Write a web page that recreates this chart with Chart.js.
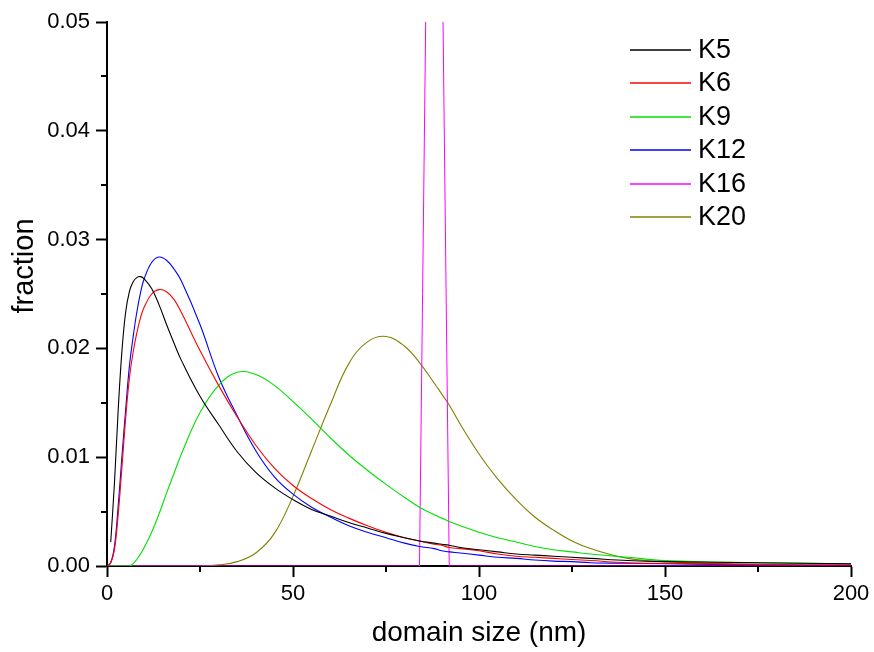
<!DOCTYPE html>
<html>
<head>
<meta charset="utf-8">
<script src="https://cdn.jsdelivr.net/npm/chart.js@4.4.0/dist/chart.umd.min.js"></script>
<style>
  html, body { margin: 0; padding: 0; background: #fff; }
  #wrap { width: 874px; height: 652px; }
</style>
</head>
<body>
<div id="wrap"><canvas id="sizeChart" width="874" height="652"></canvas></div>
<script>
// domain size (nm) sample positions
var sizes = [0, 1, 2, 3, 4, 5, 6, 7, 8, 9, 10, 12, 14, 16, 18, 20, 25, 30, 35, 40, 45, 50, 55, 60, 65, 70, 75, 80, 84, 88, 90, 92, 95, 100, 105, 110, 115, 120, 125, 130, 140, 150, 175, 200];

// fraction values (null = not read there)
var k5 = [null, 0.0022, 0.0076, 0.0143, 0.0197, 0.0233, 0.0252, 0.0261, 0.0265, 0.0266, 0.0264, 0.0255, 0.0240, 0.0222, 0.0205, 0.0189, 0.0156, 0.0130, 0.0105, 0.0086, 0.0072, 0.0061, 0.0052, 0.0046, 0.0040, 0.0035, 0.0030, 0.0026, 0.0023, 0.0021, 0.0020, 0.0019, 0.0017, 0.0015, 0.0013, 0.0011, 0.0010, 0.0009, 0.0008, 0.0007, 0.0005, 0.0004, 0.0003, 0.0002];
var k6 = [0, 0.0003, 0.0015, 0.0047, 0.0090, 0.0135, 0.0172, 0.0196, 0.0214, 0.0228, 0.0238, 0.0250, 0.0254, 0.0252, 0.0245, 0.0233, 0.0198, 0.0166, 0.0137, 0.0111, 0.0090, 0.0074, 0.0062, 0.0052, 0.0044, 0.0037, 0.0031, 0.0026, 0.0023, 0.0020, 0.0019, 0.0017, 0.0016, 0.0014, 0.0011, 0.0009, 0.0008, 0.0007, 0.0006, 0.0005, 0.0003, 0.00025, 0.00015, 0.0001];
var k9 = [0, 0, 0, 0, 0, 0, 0, 0.0002, 0.0006, 0.0011, 0.0017, 0.0031, 0.0048, 0.0067, 0.0085, 0.0103, 0.0141, 0.0166, 0.0178, 0.0176, 0.0166, 0.0151, 0.0135, 0.0118, 0.0102, 0.0088, 0.0075, 0.0063, 0.0054, 0.0047, 0.0044, 0.0041, 0.0037, 0.0031, 0.0026, 0.0022, 0.0018, 0.0015, 0.0013, 0.0011, 0.0008, 0.0005, 0.0003, 0.0002];
var k12 = [0, 0.0003, 0.0018, 0.0055, 0.0100, 0.0143, 0.0183, 0.0210, 0.0233, 0.0251, 0.0264, 0.0279, 0.0284, 0.0281, 0.0273, 0.0262, 0.0222, 0.0174, 0.0138, 0.0106, 0.0082, 0.0066, 0.0054, 0.0045, 0.0037, 0.0031, 0.0026, 0.0021, 0.0018, 0.0016, 0.0014, 0.0013, 0.0012, 0.0010, 0.0008, 0.0007, 0.00055, 0.00045, 0.0004, 0.0003, 0.00025, 0.0002, 0.0001, 0.00005];
var k16 = [0, 0, 0, 0, 0, 0, 0, 0, 0, 0, 0, 0, 0, 0, 0, 0, 0, 0, 0, 0, 0, 0, 0, 0, 0, 0, 0, 0, 0, 0.12, null, 0, 0, 0, 0, 0, 0, 0, 0, 0, 0, 0, 0, 0];
var k20 = [0, 0, 0, 0, 0, 0, 0, 0, 0, 0, 0, 0, 0, 0, 0, 0, 0, 0.0001, 0.0004, 0.0012, 0.0030, 0.0064, 0.0106, 0.0148, 0.0186, 0.0206, 0.0211, 0.0202, 0.0187, 0.0168, 0.0158, 0.0148, 0.0130, 0.0103, 0.0080, 0.0061, 0.0045, 0.0033, 0.0023, 0.0016, 0.0007, 0.0004, 0.0001, 0];

var seriesNames = ['K5', 'K6', 'K9', 'K12', 'K16', 'K20'];
var seriesValues = [k5, k6, k9, k12, k16, k20];
var seriesColors = ['#000000', '#ff0000', '#00e000', '#0000ff', '#ff00ff', '#808000'];

var xMinorTicks = [25, 75, 125, 175];
var yMinorTicks = [0.005, 0.015, 0.025, 0.035, 0.045];

var fontFamily = '"Liberation Sans", Arial, sans-serif';

function toPoints(vals) {
    var pts = [];
    for (var i = 0; i < sizes.length; i++) {
        if (vals[i] !== null) pts.push({x: sizes[i], y: vals[i]});
    }
    return pts;
}

var datasets = seriesNames.map(function (name, i) {
    return {
        label: name,
        data: toPoints(seriesValues[i]),
        borderColor: seriesColors[i],
        backgroundColor: seriesColors[i],
        borderWidth: name === 'K16' ? 1 : 1.1,
        pointRadius: 0,
        fill: false,
        tension: name === 'K16' ? 0 : 0.4
    };
});

// minor ticks, rotated y title and the legend
var extras = {
    id: 'extras',
    afterDraw: function (chart) {
        var ctx = chart.ctx;
        var area = chart.chartArea;
        var xs = chart.scales.x, ys = chart.scales.y;
        ctx.save();
        ctx.strokeStyle = '#000';
        ctx.lineWidth = 2;
        xMinorTicks.forEach(function (v) {
            var px = Math.round(xs.getPixelForValue(v));
            ctx.beginPath();
            ctx.moveTo(px, area.bottom);
            ctx.lineTo(px, area.bottom + 6);
            ctx.stroke();
        });
        yMinorTicks.forEach(function (v) {
            var py = Math.round(ys.getPixelForValue(v));
            ctx.beginPath();
            ctx.moveTo(area.left, py);
            ctx.lineTo(area.left - 6, py);
            ctx.stroke();
        });

        ctx.fillStyle = '#000';
        ctx.font = '29px ' + fontFamily;
        ctx.save();
        ctx.translate(33, 266);
        ctx.rotate(-Math.PI / 2);
        ctx.textAlign = 'center';
        ctx.textBaseline = 'alphabetic';
        ctx.fillText('fraction', 0, 0);
        ctx.restore();

        ctx.font = '27px ' + fontFamily;
        ctx.textAlign = 'left';
        ctx.textBaseline = 'middle';
        chart.data.datasets.forEach(function (ds, i) {
            var y = Math.round(49 + 33.4 * i) + 1;
            ctx.strokeStyle = ds.borderColor;
            ctx.lineWidth = 1.4;
            ctx.beginPath();
            ctx.moveTo(630, y);
            ctx.lineTo(691, y);
            ctx.stroke();
            ctx.fillStyle = '#000';
            ctx.fillText(ds.label, 698, y + 0.5);
        });
        ctx.restore();
    }
};

var ctx1 = document.getElementById('sizeChart').getContext('2d');
var sizeChart = new Chart(ctx1, {
    type: 'line',
    data: { datasets: datasets },
    options: {
        responsive: false,
        animation: false,
        layout: { padding: { top: 22, right: 23, left: 0, bottom: 0 } },
        plugins: {
            legend: { display: false },
            tooltip: { enabled: false }
        },
        scales: {
            x: {
                type: 'linear',
                min: 0,
                max: 200,
                afterFit: function (scale) { scale.height = 86; },
                ticks: {
                    stepSize: 50,
                    padding: 4,
                    color: '#000',
                    font: { family: fontFamily, size: 22 },
                    maxRotation: 0
                },
                grid: {
                    drawOnChartArea: false,
                    tickLength: 11,
                    tickColor: '#000',
                    tickWidth: 2
                },
                border: { color: '#000', width: 2 },
                title: {
                    display: true,
                    text: 'domain size (nm)',
                    color: '#000',
                    font: { family: fontFamily, size: 28 },
                    padding: { top: 0, bottom: 2 }
                }
            },
            y: {
                min: 0,
                max: 0.05,
                afterFit: function (scale) { scale.width = 107; },
                ticks: {
                    stepSize: 0.01,
                    padding: 6,
                    color: '#000',
                    font: { family: fontFamily, size: 22 },
                    callback: function (v) { return v.toFixed(2); }
                },
                grid: {
                    drawOnChartArea: false,
                    tickLength: 11,
                    tickColor: '#000',
                    tickWidth: 2
                },
                border: { color: '#000', width: 2 }
            }
        }
    },
    plugins: [extras]
});
</script>
</body>
</html>
